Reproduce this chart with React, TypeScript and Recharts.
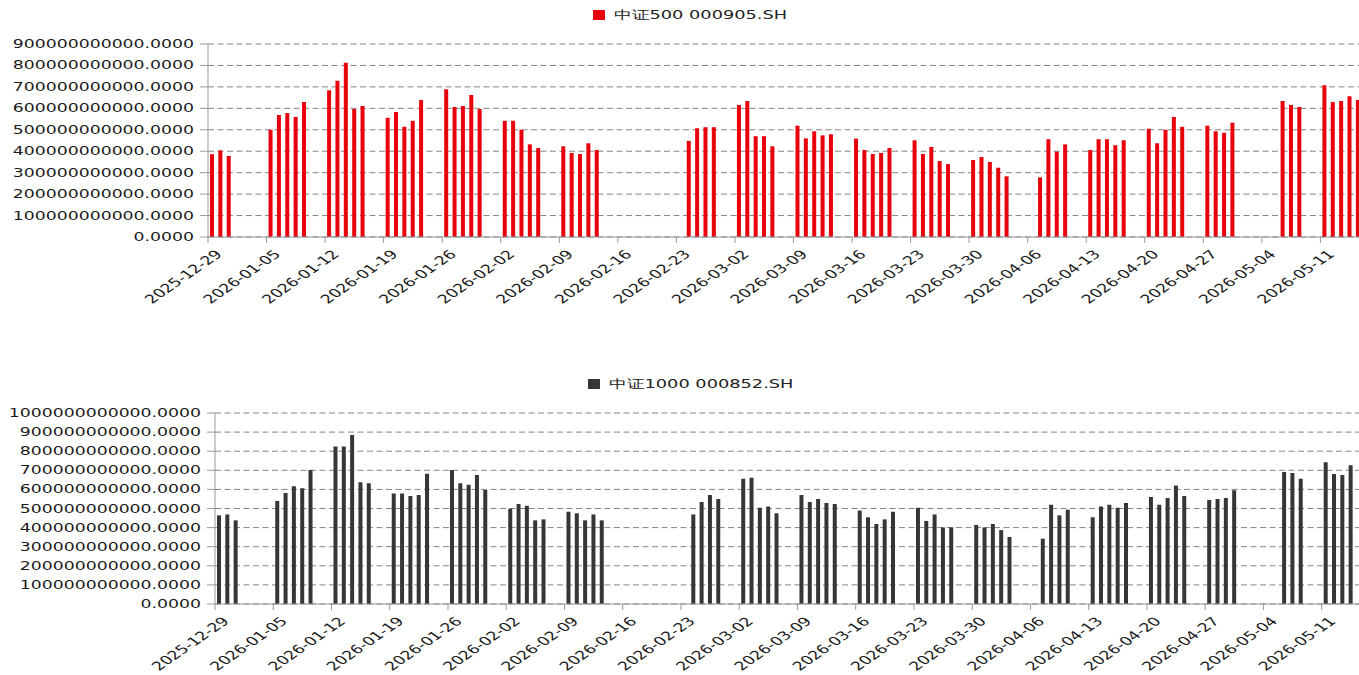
import React from 'react'
import { BarChart, Bar, XAxis, YAxis, CartesianGrid, Legend } from 'recharts'

// trading days shown on both panels
const tradeDays = [
    '2025-12-29', '2025-12-30', '2025-12-31',
    '2026-01-05', '2026-01-06', '2026-01-07', '2026-01-08', '2026-01-09',
    '2026-01-12', '2026-01-13', '2026-01-14', '2026-01-15', '2026-01-16',
    '2026-01-19', '2026-01-20', '2026-01-21', '2026-01-22', '2026-01-23',
    '2026-01-26', '2026-01-27', '2026-01-28', '2026-01-29', '2026-01-30',
    '2026-02-02', '2026-02-03', '2026-02-04', '2026-02-05', '2026-02-06',
    '2026-02-09', '2026-02-10', '2026-02-11', '2026-02-12', '2026-02-13',
    '2026-02-24', '2026-02-25', '2026-02-26', '2026-02-27',
    '2026-03-02', '2026-03-03', '2026-03-04', '2026-03-05', '2026-03-06',
    '2026-03-09', '2026-03-10', '2026-03-11', '2026-03-12', '2026-03-13',
    '2026-03-16', '2026-03-17', '2026-03-18', '2026-03-19', '2026-03-20',
    '2026-03-23', '2026-03-24', '2026-03-25', '2026-03-26', '2026-03-27',
    '2026-03-30', '2026-03-31', '2026-04-01', '2026-04-02', '2026-04-03',
    '2026-04-07', '2026-04-08', '2026-04-09', '2026-04-10',
    '2026-04-13', '2026-04-14', '2026-04-15', '2026-04-16', '2026-04-17',
    '2026-04-20', '2026-04-21', '2026-04-22', '2026-04-23', '2026-04-24',
    '2026-04-27', '2026-04-28', '2026-04-29', '2026-04-30',
    '2026-05-06', '2026-05-07', '2026-05-08',
    '2026-05-11', '2026-05-12', '2026-05-13', '2026-05-14', '2026-05-15',
]

// turnover, in units of 1e9
const csi500 = [
    386, 404, 378,
    500, 569, 578, 560, 630,
    684, 729, 812, 597, 611,
    556, 583, 514, 542, 639,
    689, 606, 611, 662, 597,
    542, 542, 500, 432, 415,
    423, 392, 387, 437, 406,
    448, 507, 512, 512,
    616, 634, 470, 470, 423,
    519, 460, 493, 474, 479,
    459, 406, 387, 392, 415,
    451, 387, 420, 354, 340,
    359, 373, 350, 323, 283,
    278, 456, 398, 432,
    406, 456, 456, 428, 451,
    505, 437, 500, 560, 514,
    519, 493, 486, 533,
    634, 616, 606,
    708, 630, 634, 656, 639,
]

const csi1000 = [
    464, 469, 438,
    539, 581, 616, 606, 702,
    824, 824, 885, 637, 632,
    579, 579, 565, 571, 682,
    702, 632, 625, 675, 597,
    499, 524, 515, 438, 443,
    483, 475, 438, 469, 438,
    469, 534, 571, 550,
    656, 661, 504, 510, 475,
    571, 534, 550, 529, 524,
    489, 454, 419, 443, 483,
    504, 435, 469, 401, 401,
    414, 401, 419, 387, 351,
    342, 520, 464, 494,
    454, 510, 520, 504, 529,
    560, 520, 555, 621, 565,
    545, 550, 555, 595,
    691, 686, 656,
    742, 681, 675, 726, null,
]

const weekTicks = [
    '2025-12-29', '2026-01-05', '2026-01-12', '2026-01-19', '2026-01-26',
    '2026-02-02', '2026-02-09', '2026-02-16', '2026-02-23', '2026-03-02',
    '2026-03-09', '2026-03-16', '2026-03-23', '2026-03-30', '2026-04-06',
    '2026-04-13', '2026-04-20', '2026-04-27', '2026-05-04', '2026-05-11',
]

const ticks500 = [0, 1, 2, 3, 4, 5, 6, 7, 8, 9]
const ticks1000 = [0, 1, 2, 3, 4, 5, 6, 7, 8, 9, 10]

const DAY = 86400000
const toMs = (s: string) => {
    const [y, m, d] = s.split('-').map(Number)
    return Date.UTC(y, m - 1, d)
}

const FONT = 'DejaVu Sans, Verdana, sans-serif'
const STRETCH = 1.44

function ValueTick({ x, y, payload }: any) {
    return (
        <text
            transform={`translate(${x},${y}) scale(${STRETCH},1)`}
            textAnchor='end'
            dominantBaseline='central'
            fontSize={12}
            fontFamily={FONT}
            fill='#1a1a1a'
        >
            {Number(payload.value).toFixed(4)}
        </text>
    )
}

function DateTick({ x, y, payload }: any) {
    const label = new Date(payload.value).toISOString().slice(0, 10)
    return (
        <text
            transform={`translate(${x + 15},${y + 10}) scale(${STRETCH},1) rotate(-45)`}
            textAnchor='end'
            fontSize={12}
            fontFamily={FONT}
            fill='#1a1a1a'
        >
            {label}
        </text>
    )
}

function LegendBox({ name, color, left }: { name: string; color: string; left: number }) {
    return (
        <div style={{ position: 'relative', width: 1359, height: 24 }}>
            <span
                style={{
                    position: 'absolute',
                    left,
                    top: 10,
                    width: 12,
                    height: 10,
                    background: color,
                }}
            />
            <span
                style={{
                    position: 'absolute',
                    left: left + 21,
                    top: 7,
                    fontSize: 12,
                    lineHeight: '16px',
                    fontFamily: FONT,
                    color: '#222',
                    whiteSpace: 'nowrap',
                    transform: 'scaleX(1.48)',
                    transformOrigin: 'left center',
                }}
            >
                {name}
            </span>
        </div>
    )
}

type PanelProps = {
    name: string
    color: string
    values: (number | null)[]
    yTicks: number[]
    axisWidth: number
    plotHeight: number
    axisHeight: number
    pxPerDay: number
    legendLeft: number
    barSize: number
}

function Panel(props: PanelProps) {
    const { name, color, values, yTicks, axisWidth, plotHeight, axisHeight, pxPerDay, legendLeft, barSize } = props
    // bars sit in the middle of their trading day
    const rows = tradeDays.map((d, i) => ({
        t: toMs(d) + DAY / 2,
        v: values[i] == null ? null : (values[i] as number) * 1e9,
    }))
    const start = toMs(weekTicks[0])
    const end = start + ((1359 - axisWidth) / pxPerDay) * DAY
    const yMax = yTicks[yTicks.length - 1] * 1e11

    return (
        <BarChart
            width={1359}
            height={44 + plotHeight + axisHeight}
            data={rows}
            margin={{ top: 20, right: 0, left: 0, bottom: 0 }}
        >
            <Legend
                verticalAlign='top'
                wrapperStyle={{ top: 0, left: 0, width: 1359 }}
                content={() => <LegendBox name={name} color={color} left={legendLeft} />}
            />
            <CartesianGrid vertical={false} stroke='#858585' strokeDasharray='6 3.5' />
            <XAxis
                dataKey='t'
                type='number'
                scale='linear'
                domain={[start, end]}
                allowDataOverflow
                ticks={weekTicks.map(toMs)}
                interval={0}
                height={axisHeight}
                tickSize={6}
                tickMargin={2}
                axisLine={{ stroke: '#999' }}
                tickLine={{ stroke: '#999' }}
                tick={<DateTick />}
            />
            <YAxis
                type='number'
                domain={[0, yMax]}
                ticks={yTicks.map((v) => v * 1e11)}
                interval={0}
                width={axisWidth}
                tickSize={8}
                tickMargin={6}
                axisLine={{ stroke: '#999' }}
                tickLine={{ stroke: '#999' }}
                tick={<ValueTick />}
            />
            <Bar dataKey='v' fill={color} barSize={barSize} isAnimationActive={false} />
        </BarChart>
    )
}

export default function App() {
    return (
        <div
            style={{
                position: 'fixed',
                left: 0,
                top: 0,
                width: 1359,
                height: 675,
                overflow: 'hidden',
                background: '#fff',
            }}
        >
            <div style={{ position: 'absolute', left: 0, top: 0 }}>
                <Panel
                    name='中证500 000905.SH'
                    color='#e8000d'
                    values={csi500}
                    yTicks={ticks500}
                    axisWidth={208}
                    plotHeight={193}
                    axisHeight={80}
                    pxPerDay={8.364}
                    legendLeft={593}
                    barSize={4}
                />
            </div>
            <div style={{ position: 'absolute', left: 0, top: 369 }}>
                <Panel
                    name='中证1000 000852.SH'
                    color='#363636'
                    values={csi1000}
                    yTicks={ticks1000}
                    axisWidth={215}
                    plotHeight={191}
                    axisHeight={71}
                    pxPerDay={8.321}
                    legendLeft={588}
                    barSize={4}
                />
            </div>
        </div>
    )
}
